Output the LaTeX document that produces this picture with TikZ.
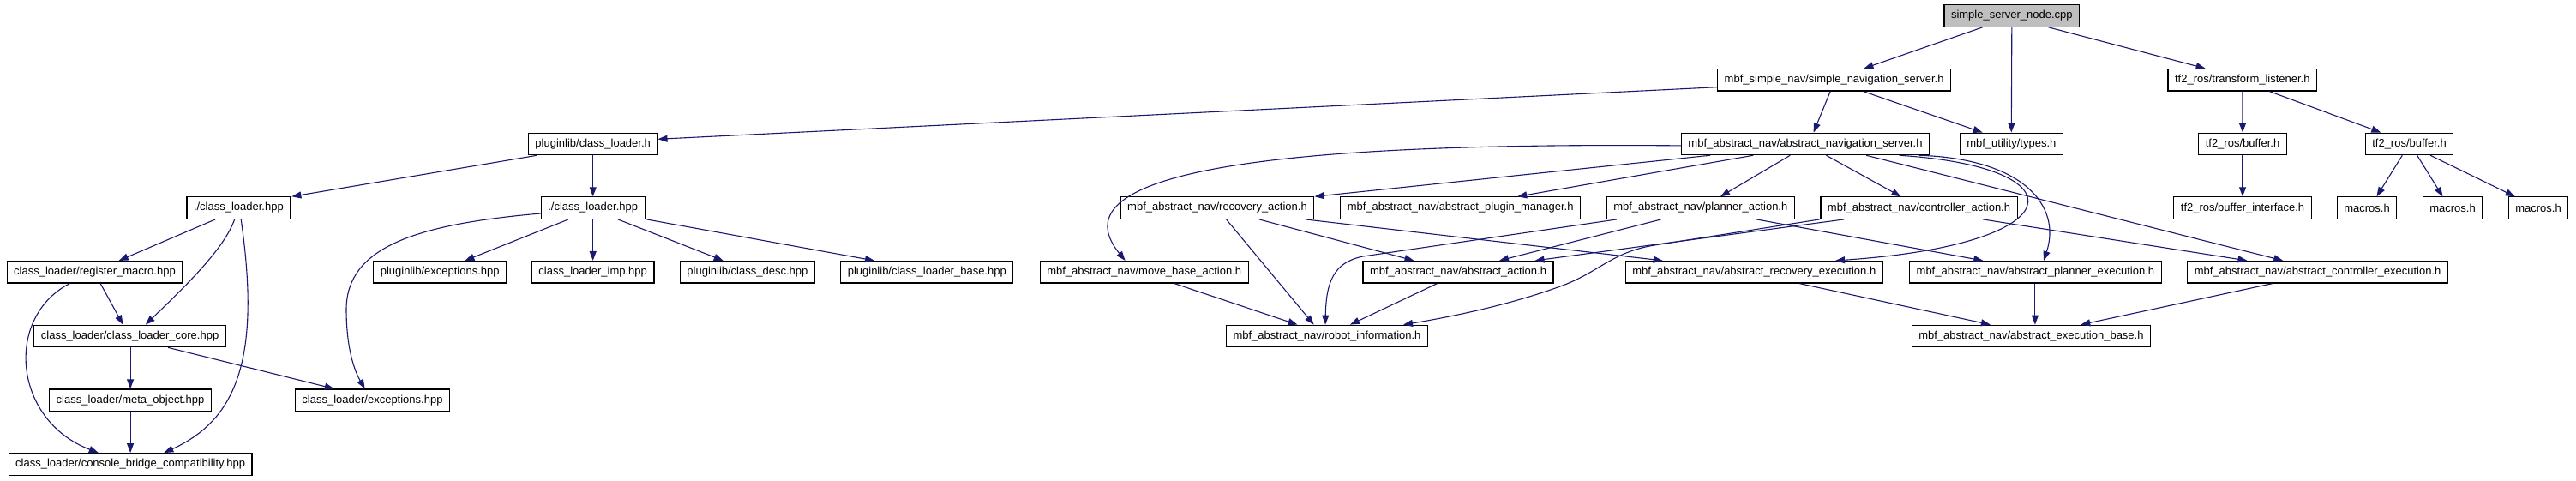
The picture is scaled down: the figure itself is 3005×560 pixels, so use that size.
\documentclass[tikz,border=0pt]{standalone}
\usepackage{fontspec}
\setmainfont{Liberation Sans}
\usetikzlibrary{arrows.meta}
\definecolor{edgeblue}{HTML}{191970}
\definecolor{rootgray}{HTML}{BFBFBF}
\begin{document}
\begin{tikzpicture}[x=1pt, y=-1pt, >={Triangle[length=11pt,width=8pt]},
    file/.style={draw=black, fill=white, line width=1.2pt, minimum height=25.5pt,
      inner xsep=8pt, inner ysep=0pt, font=\fontsize{13}{15}\selectfont},
    dep/.style={->, draw=edgeblue, line width=1.1pt}]
  \useasboundingbox (0,0) rectangle (3005,560);

  % row 0 and 1
  \node[file, fill=rootgray] (ssn) at (2346.8,18.5) {simple\_server\_node.cpp};
  \node[file] (sns) at (2139.6,93.2) {mbf\_simple\_nav/simple\_navigation\_server.h};
  \node[file] (tfl) at (2615.8,93.2) {tf2\_ros/transform\_listener.h};

  % row 2
  \node[file] (pcl) at (691.7,167.9) {pluginlib/class\_loader.h};
  \node[file] (ans) at (2106,167.9) {mbf\_abstract\_nav/abstract\_navigation\_server.h};
  \node[file] (types) at (2346.3,167.9) {mbf\_utility/types.h};
  \node[file] (buf1) at (2616,167.9) {tf2\_ros/buffer.h};
  \node[file] (buf2) at (2810.5,167.9) {tf2\_ros/buffer.h};

  % row 3
  \node[file] (cl1) at (278.4,242.6) {./class\_loader.hpp};
  \node[file] (cl2) at (691.7,242.6) {./class\_loader.hpp};
  \node[file] (recov) at (1420,242.6) {mbf\_abstract\_nav/recovery\_action.h};
  \node[file] (plugmgr) at (1703.7,242.6) {mbf\_abstract\_nav/abstract\_plugin\_manager.h};
  \node[file] (planact) at (1983.8,242.6) {mbf\_abstract\_nav/planner\_action.h};
  \node[file] (ctrlact) at (2238.5,242.6) {mbf\_abstract\_nav/controller\_action.h};
  \node[file] (bufif) at (2616,242.6) {tf2\_ros/buffer\_interface.h};
  \node[file] (mac1) at (2761,242.6) {macros.h};
  \node[file] (mac2) at (2861,242.6) {macros.h};
  \node[file] (mac3) at (2961,242.6) {macros.h};

  % row 4
  \node[file] (regmac) at (110.5,317.3) {class\_loader/register\_macro.hpp};
  \node[file] (plexc) at (513.2,317.3) {pluginlib/exceptions.hpp};
  \node[file] (climp) at (691.7,317.3) {class\_loader\_imp.hpp};
  \node[file] (cdesc) at (871.9,317.3) {pluginlib/class\_desc.hpp};
  \node[file] (clbase) at (1081.3,317.3) {pluginlib/class\_loader\_base.hpp};
  \node[file] (mba) at (1334.7,317.3) {mbf\_abstract\_nav/move\_base\_action.h};
  \node[file] (absact) at (1701,317.3) {mbf\_abstract\_nav/abstract\_action.h};
  \node[file] (arexec) at (2046.3,317.3) {mbf\_abstract\_nav/abstract\_recovery\_execution.h};
  \node[file] (apexec) at (2374.4,317.3) {mbf\_abstract\_nav/abstract\_planner\_execution.h};
  \node[file] (acexec) at (2703.6,317.3) {mbf\_abstract\_nav/abstract\_controller\_execution.h};

  % rows 5 to 7
  \node[file] (clcore) at (151.6,392) {class\_loader/class\_loader\_core.hpp};
  \node[file] (robinfo) at (1548,392) {mbf\_abstract\_nav/robot\_information.h};
  \node[file] (execbase) at (2369.4,392) {mbf\_abstract\_nav/abstract\_execution\_base.h};
  \node[file] (metaobj) at (152.1,466.7) {class\_loader/meta\_object.hpp};
  \node[file] (clexc) at (434.5,466.7) {class\_loader/exceptions.hpp};
  \node[file] (console) at (152.1,541.4) {class\_loader/console\_bridge\_compatibility.hpp};

  % includes of the node file and the tf2 side
  \draw[dep] ([xshift=-34.2pt]ssn.south) -- ([xshift=34.8pt]sns.north);
  \draw[dep] (ssn.south) -- (types.north);
  \draw[dep] ([xshift=42.8pt]ssn.south) -- ([xshift=-43.2pt]tfl.north);
  \draw[dep] ([yshift=-8.5pt]sns.west) -- ([yshift=5.6pt]pcl.east);
  \draw[dep] ([xshift=-4.4pt]sns.south) -- ([xshift=9.6pt]ans.north);
  \draw[dep] ([xshift=33.9pt]sns.south) -- ([xshift=-33.7pt]types.north);
  \draw[dep] (tfl.south) -- (buf1.north);
  \draw[dep] ([xshift=31.4pt]tfl.south) -- ([xshift=-33.2pt]buf2.north);
  \draw[dep] (buf1.south) -- (bufif.north);
  \draw[dep] ([xshift=-8.2pt]buf2.south) -- ([xshift=11.4pt]mac1.north);
  \draw[dep] ([xshift=9.1pt]buf2.south) -- ([xshift=-11.5pt]mac2.north);
  \draw[dep] ([xshift=24.5pt]buf2.south) -- ([xshift=-27.3pt]mac3.north);

  % pluginlib and class_loader
  \draw[dep] ([xshift=-65.1pt]pcl.south) -- ([xshift=62pt]cl1.north);
  \draw[dep] (pcl.south) -- (cl2.north);
  \draw[dep] ([xshift=-27.3pt]cl1.south) -- ([xshift=28.2pt]regmac.north);
  \draw[dep] ([xshift=-4.8pt]cl1.south) .. controls (262,290) and (215,335) .. ([xshift=18.2pt]clcore.north);
  \draw[dep] ([xshift=2.8pt]cl1.south) .. controls (305,420) and (275,490) .. ([xshift=39.2pt]console.north);
  \draw[dep] ([yshift=-6.4pt]cl2.west) .. controls (480,262) and (405,290) .. (404,360)
    .. controls (404,410) and (415,435) .. ([xshift=-8.8pt]clexc.north);
  \draw[dep] ([xshift=-28.7pt]cl2.south) -- ([xshift=29.2pt]plexc.north);
  \draw[dep] (cl2.south) -- (climp.north);
  \draw[dep] ([xshift=29.3pt]cl2.south) -- ([xshift=-28.2pt]cdesc.north);
  \draw[dep] ([xshift=62.8pt]cl2.south) -- ([xshift=-61.3pt]clbase.north);
  \draw[dep] ([xshift=6.7pt]regmac.south) -- ([xshift=-8.1pt]clcore.north);
  \draw[dep] ([xshift=-29.2pt]regmac.south) .. controls (5,370) and (15,490) .. ([xshift=-37.3pt]console.north);
  \draw[dep] ([xshift=0.5pt]clcore.south) -- (metaobj.north);
  \draw[dep] ([xshift=44.5pt]clcore.south) -- ([xshift=-44.7pt]clexc.north);
  \draw[dep] (metaobj.south) -- (console.north);

  % abstract navigation server
  \draw[dep] ([yshift=-2pt]ans.west) .. controls (1400,165) and (1240,215) .. ([xshift=-22.1pt]mba.north);
  \draw[dep] ([xshift=-111pt]ans.south) -- ([xshift=113.5pt]recov.north);
  \draw[dep] ([xshift=-60.7pt]ans.south) -- ([xshift=66.5pt]plugmgr.north);
  \draw[dep] ([xshift=-17.7pt]ans.south) -- ([xshift=23.2pt]planact.north);
  \draw[dep] ([xshift=24.4pt]ans.south) -- ([xshift=-21pt]ctrlact.north);
  \draw[dep] ([xshift=71.2pt]ans.south) -- ([xshift=-40.3pt]acexec.north);
  \draw[dep] ([xshift=109.7pt]ans.south) .. controls (2430,195) and (2420,285) .. ([xshift=94.7pt]arexec.north);
  \draw[dep] ([xshift=132.6pt]ans.south) .. controls (2360,185) and (2405,240) .. ([xshift=9.6pt]apexec.north);

  % actions
  \draw[dep] ([xshift=10.6pt]recov.south) -- ([xshift=-15.3pt]robinfo.north);
  \draw[dep] ([xshift=48.9pt]recov.south) -- ([xshift=-51.5pt]absact.north);
  \draw[dep] ([xshift=103pt]recov.south) -- ([xshift=-106.6pt]arexec.north);
  \draw[dep] ([xshift=-98pt]planact.south) -- (1590,299) .. controls (1555,306) and (1547,330) .. ([xshift=-2pt]robinfo.north);
  \draw[dep] ([xshift=-46.2pt]planact.south) -- ([xshift=48pt]absact.north);
  \draw[dep] ([xshift=65.5pt]planact.south) -- ([xshift=-61.1pt]apexec.north);
  \draw[dep] ([xshift=-116pt]ctrlact.south) -- (1930,286) .. controls (1880,294) and (1865,318) .. (1820,334)
    .. controls (1760,356) and (1690,370) .. ([xshift=89pt]robinfo.north);
  \draw[dep] ([xshift=-87.5pt]ctrlact.south) -- ([xshift=89.5pt]absact.north);
  \draw[dep] ([xshift=74.8pt]ctrlact.south) -- ([xshift=-82.1pt]acexec.north);
  \draw[dep] ([xshift=35.3pt]mba.south) -- ([xshift=-34.5pt]robinfo.north);
  \draw[dep] ([xshift=-24.5pt]absact.south) -- ([xshift=27pt]robinfo.north);

  % executions
  \draw[dep] ([xshift=53pt]arexec.south) -- ([xshift=-47.5pt]execbase.north);
  \draw[dep] ([xshift=-0.5pt]apexec.south) -- ([xshift=4.5pt]execbase.north);
  \draw[dep] ([xshift=-52.8pt]acexec.south) -- ([xshift=57.9pt]execbase.north);
\end{tikzpicture}
\end{document}
